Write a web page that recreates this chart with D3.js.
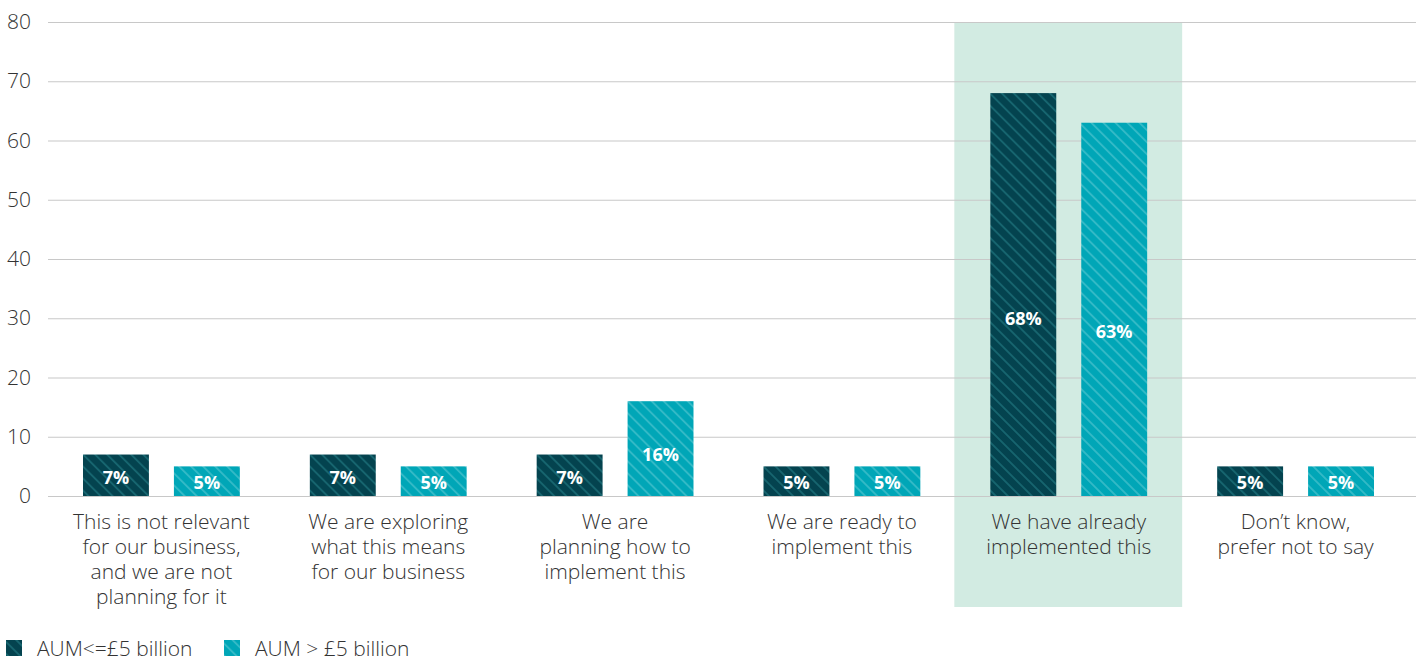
<!DOCTYPE html>
<html>
<head>
<meta charset="utf-8">
<script src="https://cdn.jsdelivr.net/npm/d3@7"></script>
<style>
  body { margin: 0; background: #fff; }
  svg text { font-family: "Open Sans", sans-serif; }
</style>
</head>
<body>
<div id="chart"></div>
<script>
const categories = [
  ['This is not relevant', 'for our business,', 'and we are not', 'planning for it'],
  ['We are exploring', 'what this means', 'for our business'],
  ['We are', 'planning how to', 'implement this'],
  ['We are ready to', 'implement this'],
  ['We have already', 'implemented this'],
  ['Don\u2019t know,', 'prefer not to say']
]
const seriesNames = ['AUM<=£5 billion', 'AUM > £5 billion']
const smallAum = [7, 7, 7, 5, 68, 5]
const largeAum = [5, 5, 16, 5, 63, 5]
const yTicks = [0, 10, 20, 30, 40, 50, 60, 70, 80]
const highlighted = 4

const W = 1416, H = 662
const margin = { left: 48, right: 7, top: 22, bottom: 166 }
const colors = ['#04434f', '#00a6b7']
const stripes = ['#176670', '#35bac7']

const svg = d3.select('#chart').append('svg')
  .attr('width', W)
  .attr('height', H)

// hatch patterns
const defs = svg.append('defs')
colors.forEach((c, i) => {
  const p = defs.append('pattern')
    .attr('id', 'hatch' + i)
    .attr('patternUnits', 'userSpaceOnUse')
    .attr('width', 8.5)
    .attr('height', 8.5)
    .attr('patternTransform', 'rotate(-45)')
  p.append('rect').attr('width', 8.5).attr('height', 8.5).attr('fill', c)
  p.append('rect').attr('width', 1.8).attr('height', 8.5).attr('fill', stripes[i])
})

const x = d3.scaleBand()
  .domain(d3.range(categories.length))
  .range([margin.left, W - margin.right])
  .paddingInner(0)

const xSub = d3.scaleBand()
  .domain([0, 1])
  .range([0, x.bandwidth()])
  .paddingInner(0.275)
  .paddingOuter(0.385)

const y = d3.scaleLinear()
  .domain([0, 80])
  .range([H - margin.bottom, margin.top])

// highlight band
svg.append('rect')
  .attr('x', x(highlighted) - 1)
  .attr('y', y(80))
  .attr('width', x.bandwidth() + 1)
  .attr('height', 607 - y(80))
  .attr('fill', '#d2ebe2')

// grid + y axis
const yAxis = d3.axisLeft(y)
  .tickValues(yTicks)
  .tickSize(-(W - margin.left))
  .tickPadding(17)
svg.append('g')
  .attr('transform', `translate(${margin.left},0)`)
  .call(yAxis)
  .call(g => g.select('.domain').remove())
  .call(g => g.selectAll('line').attr('stroke', '#c8c8c8').attr('stroke-width', 1.2))
  .call(g => g.selectAll('text')
    .attr('fill', '#333')
    .attr('font-size', 21)
    .attr('font-weight', 300)
    .attr('font-family', '"Open Sans", sans-serif'))

const rows = categories.map((c, i) => ({ i, vals: [smallAum[i], largeAum[i]] }))

const groups = svg.append('g').selectAll('g')
  .data(rows)
  .join('g')
  .attr('transform', d => `translate(${x(d.i)},0)`)

groups.selectAll('rect')
  .data(d => d.vals.map((v, s) => ({ v, s })))
  .join('rect')
  .attr('x', d => xSub(d.s))
  .attr('width', xSub.bandwidth())
  .attr('y', d => y(d.v))
  .attr('height', d => y(0) - y(d.v))
  .attr('fill', d => `url(#hatch${d.s})`)

groups.selectAll('text.val')
  .data(d => d.vals.map((v, s) => ({ v, s })))
  .join('text')
  .attr('class', 'val')
  .attr('x', d => xSub(d.s) + xSub.bandwidth() / 2)
  .attr('y', d => y(d.v * 0.44))
  .attr('dy', '0.35em')
  .attr('text-anchor', 'middle')
  .attr('fill', '#fff')
  .attr('font-size', 18)
  .attr('font-weight', 700)
  .text(d => d.v + '%')

// category labels
groups.append('text')
  .attr('text-anchor', 'middle')
  .attr('fill', '#333')
  .attr('font-size', 21)
  .attr('font-weight', 300)
  .selectAll('tspan')
  .data(d => categories[d.i])
  .join('tspan')
  .attr('x', x.bandwidth() / 2)
  .attr('y', (d, k) => 529 + k * 25)
  .text(d => d)

// legend
const legend = svg.append('g')
const legendX = [6, 224]
seriesNames.forEach((name, i) => {
  legend.append('rect')
    .attr('x', legendX[i])
    .attr('y', 640)
    .attr('width', 16)
    .attr('height', 16)
    .attr('fill', `url(#hatch${i})`)
  legend.append('text')
    .attr('x', legendX[i] + 31)
    .attr('y', 649)
    .attr('dy', '0.35em')
    .attr('fill', '#333')
    .attr('font-size', 21)
    .attr('font-weight', 300)
    .text(name)
})
</script>
</body>
</html>
